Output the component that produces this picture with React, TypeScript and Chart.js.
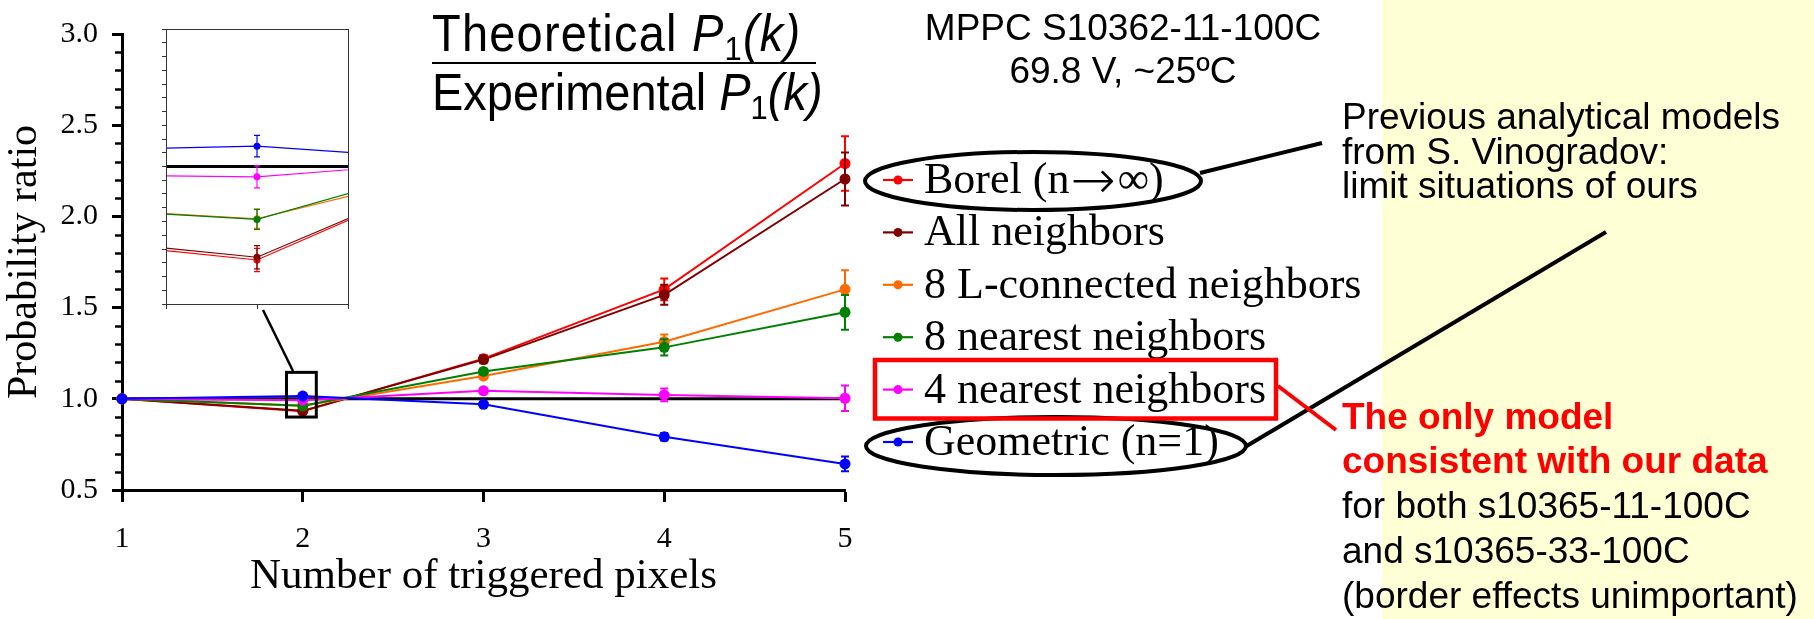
import React, { useEffect, useRef } from "react";
import { Chart, registerables } from "chart.js";

Chart.register(...registerables);

// ---------------- data ----------------
const kValues = [1, 2, 3, 4, 5];
const xTickLabels = ["1", "2", "3", "4", "5"];
const yTickLabels = ["0.5", "1.0", "1.5", "2.0", "2.5", "3.0"];

const seriesLabels = [
  "Borel (n→∞)",
  "All neighbors",
  "8 L-connected neighbors",
  "8 nearest neighbors",
  "4 nearest neighbors",
  "Geometric (n=1)",
];
const seriesColors = ["#ff0000", "#800000", "#ff6a00", "#008000", "#ff00ff", "#0000ff"];

const borel = [1.0, 0.932, 1.22, 1.6, 2.29];
const borelErr = [0, 0.0085, 0.02, 0.06, 0.15];
const allNeighbors = [1.0, 0.934, 1.215, 1.57, 2.205];
const allNeighborsErr = [0, 0.0085, 0.02, 0.055, 0.145];
const eightLConnected = [1.0, 0.962, 1.125, 1.313, 1.6];
const eightLConnectedErr = [0, 0.007, 0.015, 0.04, 0.105];
const eightNearest = [1.0, 0.9615, 1.15, 1.282, 1.474];
const eightNearestErr = [0, 0.0073, 0.015, 0.045, 0.095];
const fourNearest = [1.0, 0.9925, 1.044, 1.021, 1.003];
const fourNearestErr = [0, 0.008, 0.015, 0.035, 0.07];
const geometric = [1.0, 1.0148, 0.97, 0.792, 0.643];
const geometricErr = [0, 0.0078, 0.012, 0.02, 0.04];
const referenceLine = [1, 1, 1, 1, 1];

const seriesValues = [borel, allNeighbors, eightLConnected, eightNearest, fourNearest, geometric];
const seriesErrors = [borelErr, allNeighborsErr, eightLConnectedErr, eightNearestErr, fourNearestErr, geometricErr];

// region of the main plot that the inset magnifies
const zoomRegion = { xMin: 1.91, xMax: 2.075, yMin: 0.9, yMax: 1.145 };

// ---------------- fonts ----------------
const SERIF = '"Liberation Serif", "Times New Roman", serif';
const SANS = '"Liberation Sans", Arial, sans-serif';
const ARROW_FONT = '"DejaVu Sans", "Liberation Serif", serif';

// ---------------- plugins ----------------
const errorBarPlugin = {
  id: "errorBars",
  afterDatasetDraw(chart: any, args: any, opts: any) {
    const ds = chart.data.datasets[args.index];
    if (!ds || !ds.errors) return;
    const { ctx, chartArea } = chart;
    const xs = chart.scales.x;
    const ys = chart.scales.y;
    ctx.save();
    if (opts.clip) {
      ctx.beginPath();
      ctx.rect(chartArea.left, chartArea.top, chartArea.right - chartArea.left, chartArea.bottom - chartArea.top);
      ctx.clip();
    }
    ctx.strokeStyle = ds.borderColor;
    ctx.lineWidth = opts.lineWidth;
    ds.data.forEach((pt: any, i: number) => {
      const e = ds.errors[i];
      if (!e) return;
      const x = xs.getPixelForValue(pt.x);
      const y1 = ys.getPixelForValue(pt.y + e);
      const y2 = ys.getPixelForValue(pt.y - e);
      ctx.beginPath();
      ctx.moveTo(x, y1);
      ctx.lineTo(x, y2);
      ctx.moveTo(x - opts.cap, y1);
      ctx.lineTo(x + opts.cap, y1);
      ctx.moveTo(x - opts.cap, y2);
      ctx.lineTo(x + opts.cap, y2);
      ctx.stroke();
    });
    ctx.restore();
  },
};

const minorTickPlugin = {
  id: "minorTicks",
  afterDraw(chart: any, _args: any, opts: any) {
    if (!opts || !opts.enabled) return;
    const ys = chart.scales.y;
    const { ctx } = chart;
    const left = chart.chartArea.left;
    ctx.save();
    ctx.strokeStyle = "#000";
    ctx.lineWidth = opts.width;
    const n = Math.round((ys.max - ys.min) / opts.step);
    for (let i = 1; i < n; i++) {
      const v = ys.min + i * opts.step;
      const r = v / opts.major;
      if (Math.abs(r - Math.round(r)) < 1e-6) continue;
      const y = Math.round(ys.getPixelForValue(v)) + 0.5;
      ctx.beginPath();
      ctx.moveTo(left - opts.length, y);
      ctx.lineTo(left, y);
      ctx.stroke();
    }
    ctx.restore();
  },
};

const zoomBoxPlugin = {
  id: "zoomBox",
  afterDraw(chart: any, _args: any, opts: any) {
    if (!opts || !opts.enabled) return;
    const xs = chart.scales.x;
    const ys = chart.scales.y;
    const { ctx } = chart;
    const l = xs.getPixelForValue(zoomRegion.xMin);
    const r = xs.getPixelForValue(zoomRegion.xMax);
    const t = ys.getPixelForValue(zoomRegion.yMax);
    const b = ys.getPixelForValue(zoomRegion.yMin);
    ctx.save();
    ctx.strokeStyle = "#000";
    ctx.lineWidth = 3;
    ctx.strokeRect(l, t, r - l, b - t);
    ctx.restore();
  },
};

const framePlugin = {
  id: "frame",
  afterDraw(chart: any, _args: any, opts: any) {
    if (!opts || !opts.enabled) return;
    const { ctx, chartArea } = chart;
    ctx.save();
    ctx.strokeStyle = "#333";
    ctx.lineWidth = 1;
    ctx.strokeRect(
      Math.round(chartArea.left) + 0.5,
      Math.round(chartArea.top) + 0.5,
      Math.round(chartArea.right - chartArea.left),
      Math.round(chartArea.bottom - chartArea.top)
    );
    ctx.restore();
  },
};

// ---------------- datasets ----------------
function buildDatasets(lineWidth: number, pointRadius: number, refWidth: number, clip: any) {
  const ds: any[] = seriesValues.map((vals, s) => ({
    label: seriesLabels[s],
    data: kValues.map((k, i) => ({ x: k, y: vals[i] })),
    errors: seriesErrors[s],
    borderColor: seriesColors[s],
    backgroundColor: seriesColors[s],
    pointBackgroundColor: seriesColors[s],
    pointBorderColor: seriesColors[s],
    pointBorderWidth: 0,
    pointRadius,
    borderWidth: lineWidth,
    tension: 0,
    fill: false,
    order: seriesValues.length - s,
    clip,
  }));
  ds.push({
    label: "reference",
    data: kValues.map((k, i) => ({ x: k, y: referenceLine[i] })),
    borderColor: "#000",
    backgroundColor: "#000",
    borderWidth: refWidth,
    pointRadius: 0,
    tension: 0,
    fill: false,
    order: 20,
    clip,
  });
  return ds;
}

function mainConfig(): any {
  return {
    type: "line",
    data: { datasets: buildDatasets(2, 5.5, 3, false) },
    plugins: [errorBarPlugin, minorTickPlugin, zoomBoxPlugin],
    options: {
      animation: false,
      responsive: false,
      maintainAspectRatio: false,
      layout: { padding: { left: 0, top: 34, right: 55, bottom: 0 } },
      plugins: {
        legend: { display: false },
        tooltip: { enabled: false },
        errorBars: { lineWidth: 2, cap: 4, clip: false },
        minorTicks: { enabled: true, step: 0.1, major: 0.5, length: 7, width: 2.5 },
        zoomBox: { enabled: true },
      },
      scales: {
        x: {
          type: "linear",
          min: 1,
          max: 5,
          afterFit: (s: any) => {
            s.height = 129;
          },
          ticks: {
            stepSize: 1,
            color: "#000",
            padding: 19,
            font: { family: SERIF, size: 30 },
            callback: (v: any) => xTickLabels[kValues.indexOf(Number(v))] ?? "",
          },
          grid: { display: true, drawOnChartArea: false, drawTicks: true, tickLength: 12, tickWidth: 3, tickColor: "#000" },
          border: { display: true, color: "#000", width: 3 },
          title: {
            display: true,
            text: "Number of triggered pixels",
            color: "#000",
            font: { family: SERIF, size: 43 },
            padding: { top: 0, bottom: 16 },
          },
        },
        y: {
          type: "linear",
          min: 0.5,
          max: 3.0,
          afterFit: (s: any) => {
            s.width = 122;
          },
          ticks: {
            stepSize: 0.5,
            color: "#000",
            padding: 14,
            font: { family: SERIF, size: 30 },
            callback: (v: any) => {
              const idx = Math.round((Number(v) - 0.5) / 0.5);
              return yTickLabels[idx] ?? "";
            },
          },
          grid: { display: true, drawOnChartArea: false, drawTicks: true, tickLength: 10, tickWidth: 3, tickColor: "#000" },
          border: { display: true, color: "#000", width: 3 },
          title: {
            display: true,
            text: "Probability ratio",
            color: "#000",
            font: { family: SERIF, size: 42 },
            padding: { top: 0, bottom: 0 },
          },
        },
      },
    },
  };
}

function insetConfig(): any {
  return {
    type: "line",
    data: { datasets: buildDatasets(1.2, 3.5, 3, 0) },
    plugins: [errorBarPlugin, framePlugin],
    options: {
      animation: false,
      responsive: false,
      maintainAspectRatio: false,
      layout: { padding: { left: 0, top: 9, right: 12, bottom: 0 } },
      plugins: {
        legend: { display: false },
        tooltip: { enabled: false },
        errorBars: { lineWidth: 1.2, cap: 3, clip: true },
        frame: { enabled: true },
      },
      scales: {
        x: {
          type: "linear",
          min: 1.9,
          max: 2.1,
          afterFit: (s: any) => {
            s.height = 11;
          },
          ticks: { display: false, stepSize: 0.1 },
          grid: { display: true, drawOnChartArea: false, drawTicks: true, tickLength: 5, tickWidth: 1, tickColor: "#333" },
          border: { display: false },
        },
        y: {
          type: "linear",
          min: 0.9,
          max: 1.1,
          afterFit: (s: any) => {
            s.width = 16;
          },
          ticks: { display: false, stepSize: 0.01 },
          grid: { display: true, drawOnChartArea: false, drawTicks: true, tickLength: 4, tickWidth: 1, tickColor: "#333" },
          border: { display: false },
        },
      },
    },
  };
}

function stretchY(y: number, k: number) {
  return `translate(0 ${y}) scale(1 ${k}) translate(0 ${-y})`;
}

function LegendLabel({ text }: { text: string }) {
  const parts = text.split("→");
  if (parts.length === 1) return <>{text}</>;
  return (
    <>
      {parts[0]}
      <tspan fontFamily={ARROW_FONT} fontWeight={200} fontSize={54} dx={1} dy={5}>→</tspan>
      <tspan dx={2} dy={-5}>{parts[1]}</tspan>
    </>
  );
}

// ---------------- component ----------------
export default function App() {
  const mainRef = useRef<HTMLCanvasElement>(null);
  const insetRef = useRef<HTMLCanvasElement>(null);

  useEffect(() => {
    const main = new Chart(mainRef.current as HTMLCanvasElement, mainConfig());
    const inset = new Chart(insetRef.current as HTMLCanvasElement, insetConfig());
    return () => {
      main.destroy();
      inset.destroy();
    };
  }, []);

  const legendTop = 193;
  const legendStep = 52.4;

  return (
    <div style={{ position: "absolute", left: 0, top: 0, width: 1814, height: 619, background: "#fff", overflow: "hidden" }}>
      <div style={{ position: "absolute", left: 1382, top: 0, width: 432, height: 619, background: "#FFFFD6" }} />
      <canvas ref={mainRef} width={900} height={619} style={{ position: "absolute", left: 0, top: 0 }} />
      <canvas ref={insetRef} width={210} height={295} style={{ position: "absolute", left: 150, top: 20 }} />
      <svg
        width={1814}
        height={619}
        style={{ position: "absolute", left: 0, top: 0, pointerEvents: "none" }}
      >
        {/* leader line from inset to zoom box */}
        <line x1={263} y1={310} x2={293} y2={371} stroke="#000" strokeWidth={2.5} />

        {/* title fraction */}
        <text
          x={432}
          y={51}
          fontFamily={SANS}
          fontSize={47}
          letterSpacing={1.2}
          fill="#000"
          transform={stretchY(51, 1.1)}
        >
          Theoretical{" "}
          <tspan fontStyle="italic">P</tspan>
          <tspan fontSize={31} dy={8}>1</tspan>
          <tspan fontStyle="italic" dy={-8}>(k)</tspan>
        </text>
        <line x1={432} x2={816} y1={63} y2={63} stroke="#000" strokeWidth={2} />
        <text x={432} y={110} fontFamily={SANS} fontSize={47} fill="#000" transform={stretchY(110, 1.1)}>
          Experimental{" "}
          <tspan fontStyle="italic">P</tspan>
          <tspan fontSize={31} dy={8}>1</tspan>
          <tspan fontStyle="italic" dy={-8}>(k)</tspan>
        </text>

        {/* device info */}
        <text x={1123} y={40} textAnchor="middle" fontFamily={SANS} fontSize={37} fill="#000">
          MPPC S10362-11-100C
        </text>
        <text x={1123} y={83} textAnchor="middle" fontFamily={SANS} fontSize={37} fill="#000">
          69.8 V, ~25ºC
        </text>

        {/* legend */}
        {seriesLabels.map((label, i) => {
          const base = legendTop + i * legendStep;
          const my = base - 13;
          return (
            <g key={label}>
              <line x1={883} x2={913} y1={my} y2={my} stroke={seriesColors[i]} strokeWidth={2.2} />
              <circle cx={898} cy={my} r={4.5} fill={seriesColors[i]} />
              <text x={924} y={base} fontFamily={SERIF} fontSize={44} fill="#000">
                <LegendLabel text={label} />
              </text>
            </g>
          );
        })}

        {/* highlight shapes */}
        <ellipse cx={1033} cy={181} rx={168} ry={29} fill="none" stroke="#000" strokeWidth={4} />
        <ellipse cx={1056} cy={446} rx={190} ry={29} fill="none" stroke="#000" strokeWidth={4} />
        <rect x={875} y={360} width={401} height={58.5} fill="none" stroke="#ff0000" strokeWidth={4.5} />
        <line x1={1200} y1={173} x2={1322} y2={143} stroke="#000" strokeWidth={4} />
        <line x1={1245} y1={447} x2={1606} y2={232} stroke="#000" strokeWidth={4} />
        <line x1={1278} y1={386} x2={1336} y2={430} stroke="#ff0000" strokeWidth={4} />

        {/* right annotations */}
        <g fontFamily={SANS} fontSize={37} fill="#000">
          <text x={1342} y={129}>Previous analytical models</text>
          <text x={1342} y={163.5}>from S. Vinogradov:</text>
          <text x={1342} y={198}>limit situations of ours</text>
        </g>
        <g fontFamily={SANS} fontSize={37} fontWeight="bold" fill="#ff0000">
          <text x={1342} y={429}>The only model</text>
          <text x={1342} y={473}>consistent with our data</text>
        </g>
        <g fontFamily={SANS} fontSize={37} fill="#000">
          <text x={1342} y={518}>for both s10365-11-100C</text>
          <text x={1342} y={563}>and s10365-33-100C</text>
          <text x={1342} y={608}>(border effects unimportant)</text>
        </g>
      </svg>
    </div>
  );
}
